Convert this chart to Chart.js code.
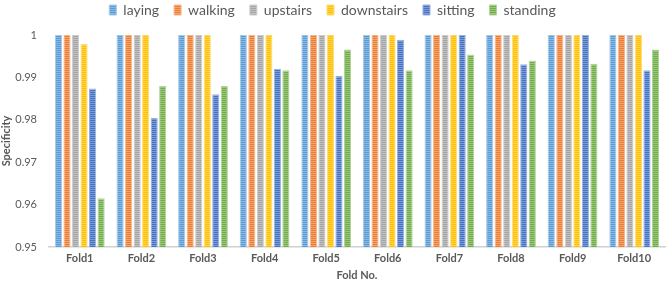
<!DOCTYPE html>
<html><head><meta charset="utf-8">
<script src="https://cdn.jsdelivr.net/npm/chart.js@4"></script>
<style>html,body{margin:0;padding:0;background:#fff}canvas{display:block}</style>
</head><body>
<canvas id="c" width="668" height="286"></canvas>
<script>
const categories = ['Fold1','Fold2','Fold3','Fold4','Fold5','Fold6','Fold7','Fold8','Fold9','Fold10'];
const seriesNames = ['laying','walking','upstairs','downstairs','sitting','standing'];
const laying     = [1,1,1,1,1,1,1,1,1,1];
const walking    = [1,1,1,1,1,1,1,1,1,1];
const upstairs   = [1,1,1,1,1,1,1,1,1,1];
const downstairs = [0.9979,1,1,1,1,1,1,1,1,1];
const sitting    = [0.9874,0.9804,0.9860,0.9920,0.9904,0.9989,1,0.9931,1,0.9917];
const standing   = [0.9615,0.9880,0.9880,0.9917,0.9966,0.9917,0.9954,0.9940,0.9932,0.9966];
const yTickLabels = ['0.95','0.96','0.97','0.98','0.99','1'];
const xTitle = 'Fold No.';
const yTitle = 'Specificity';

const seriesValues = [laying, walking, upstairs, downstairs, sitting, standing];
const baseColors = ['#5B9BD5','#ED7D31','#A5A5A5','#FFC000','#4472C4','#70AD47'];

function lighten(hex, f){
  const n = parseInt(hex.slice(1),16);
  const r=(n>>16)&255,g=(n>>8)&255,b=n&255;
  const m=c=>Math.round(c+(255-c)*f);
  return `rgb(${m(r)},${m(g)},${m(b)})`;
}
function stripes(hex){
  const cv=document.createElement('canvas');cv.width=4;cv.height=2;
  const x=cv.getContext('2d');
  x.fillStyle=hex;x.fillRect(0,0,4,1);
  x.fillStyle=lighten(hex,0.3);x.fillRect(0,1,4,1);
  return document.getElementById('c').getContext('2d').createPattern(cv,'repeat');
}

const FONT = 'Lato, "Open Sans", sans-serif';
const TXT = '#595959';

const legendFix = {
  id:'legendFix',
  beforeLayout(chart){
    const l = chart.legend;
    if(l && !l._fixed){
      const f = l.fit;
      l.fit = function(){ f.call(this); this.height = 47; };
      l._fixed = true;
    }
  }
};

new Chart(document.getElementById('c'), {
  type:'bar',
  data:{
    labels:categories,
    datasets: seriesNames.map((name,i)=>({
      label:name,
      data:seriesValues[i],
      backgroundColor:stripes(baseColors[i]),
      borderColor:lighten(baseColors[i],0.45),
      borderWidth:1,
      categoryPercentage:0.83,
      barPercentage:0.84
    }))
  },
  options:{
    responsive:false,
    animation:false,
    layout:{padding:{top:-12,left:0,right:3,bottom:0}},
    plugins:{
      tooltip:{enabled:false},
      legend:{
        position:'top',
        labels:{
          font:{family:FONT,size:14},
          color:TXT,
          boxWidth:7,
          boxHeight:10,
          padding:15
        }
      }
    },
    scales:{
      x:{
        grid:{display:false,drawTicks:false},
        border:{display:true,color:'#D0D0D0',width:1.5},
        ticks:{font:{family:FONT,size:11,weight:'bold'},color:TXT,padding:5},
        title:{display:true,text:xTitle,font:{family:FONT,size:11,weight:'bold'},color:TXT,padding:{top:0,bottom:4}},
        afterFit(s){ s.height = 39; }
      },
      y:{
        min:0.95,max:1,
        grid:{display:false,drawTicks:false},
        border:{display:false},
        ticks:{stepSize:0.01,font:{family:FONT,size:11},color:TXT,padding:12,
          callback:(v,i)=>yTickLabels[i]},
        title:{display:true,text:yTitle,font:{family:FONT,size:11,weight:'bold'},color:TXT,padding:{top:0,bottom:0}},
        afterFit(s){ s.width = 49; }
      }
    }
  },
  plugins:[legendFix]
});
</script>
</body></html>
